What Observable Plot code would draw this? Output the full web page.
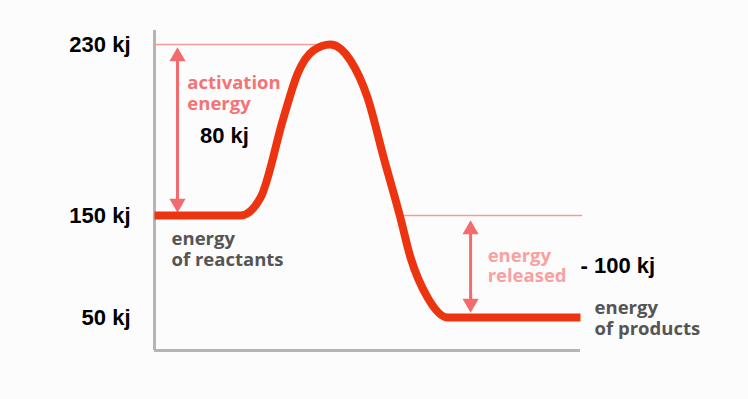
<!DOCTYPE html>
<html><head><meta charset="utf-8">
<script src="https://cdn.jsdelivr.net/npm/d3@7"></script>
<script src="https://cdn.jsdelivr.net/npm/@observablehq/plot@0.6"></script>
<style>body{margin:0;background:#fcfcfc}</style>
</head><body><div id="chart"></div>
<script>
// reaction progress (0-100) and energy (kJ) along the reaction path
const progress = [0, 20.2, 24.9, 30.3, 33.6, 37.3, 41.3, 46.0, 50.0, 53.8, 57.7, 60.1, 64.1, 68.8, 100];
const energy   = [150, 150, 158.4, 195.8, 216.4, 227.2, 230, 222.5, 205.2, 177.1, 148.0, 108.8, 69.6, 50, 50];
const levelValues = [230, 150, 50];
const levelLabels = ["230 kj", "150 kj", "50 kj"];
const reactants = 150, peak = 230, products = 50;
const peakProgress = 41.3;
const releasedStart = 58.5;
const activationArrowX = 5.4, releasedArrowX = 74.2;
const activationValue = "80 kj", releasedValue = "- 100 kj";
const curveData = progress.map((p, i) => ({p, e: energy[i]}));

// the diagram is not drawn to scale: a piecewise (schematic) energy axis
const schematic = d3.scaleLinear().domain([15, 50, 150, 230, 240]).range([0, 33, 135, 306, 320]);

const bold = "Liberation Sans, Arial, sans-serif";
const sans = "Open Sans, sans-serif";
const desc = {textAnchor: "start", lineAnchor: "middle", lineHeight: 1.12, fontFamily: sans, fontWeight: 700, fontSize: 18.5};
const chart = Plot.plot({
  width: 748, height: 399,
  marginTop: 0, marginRight: 0, marginBottom: 0, marginLeft: 0,
  style: {background: "#fcfcfc", overflow: "visible"},
  x: {domain: [0, 100], range: [154, 580], axis: null},
  y: {transform: schematic, domain: [0, 320], range: [350, 30], axis: null},
  marks: [
    // axes
    Plot.ruleX([0], {y1: 15, y2: 240, stroke: "#b5b5b5", strokeWidth: 3}),
    Plot.ruleY([15], {x1: 0, x2: 100, stroke: "#b5b5b5", strokeWidth: 3}),
    // reference lines
    Plot.ruleY([peak], {x1: 0, x2: peakProgress - 2, stroke: "#f89a9a", strokeWidth: 1.5}),
    Plot.ruleY([reactants], {x1: releasedStart, x2: 100.5, stroke: "#f89a9a", strokeWidth: 1.5}),
    // arrows
    Plot.ruleX([activationArrowX], {y1: peak, y2: reactants, insetTop: 10, insetBottom: 10, stroke: "#f46b6e", strokeWidth: 3}),
    Plot.dot([activationArrowX], {x: d => d, y: peak, dy: 12, symbol: "triangle", r: 6, fill: "#f46b6e", stroke: "none"}),
    Plot.dot([activationArrowX], {x: d => d, y: reactants, dy: -12, symbol: "triangle", rotate: 180, r: 6, fill: "#f46b6e", stroke: "none"}),
    Plot.ruleX([releasedArrowX], {y1: reactants, y2: products, insetTop: 12, insetBottom: 12, stroke: "#f46b6e", strokeWidth: 3}),
    Plot.dot([releasedArrowX], {x: d => d, y: reactants, dy: 14, symbol: "triangle", r: 6, fill: "#f46b6e", stroke: "none"}),
    Plot.dot([releasedArrowX], {x: d => d, y: products, dy: -14, symbol: "triangle", rotate: 180, r: 6, fill: "#f46b6e", stroke: "none"}),
    // energy curve
    Plot.line(curveData, {x: "p", y: "e", curve: "monotone-x", stroke: "#ec3510", strokeWidth: 8, strokeLinecap: "butt"}),
    // level labels
    Plot.text(levelValues, {x: 0, y: d => d, text: (d, i) => levelLabels[i], dx: -24, textAnchor: "end", fontFamily: bold, fontWeight: "bold", fontSize: 22, fill: "#000"}),
    Plot.text([activationValue], {x: 16.4, y: 187, text: d => d, fontFamily: bold, fontWeight: "bold", fontSize: 22, fill: "#000"}),
    Plot.text([releasedValue], {x: 100, y: 101, text: d => d, textAnchor: "start", fontFamily: bold, fontWeight: "bold", fontSize: 22, fill: "#000"}),
    // descriptive labels
    Plot.text(["activation\nenergy"], {x: 7.7, y: 207.3, text: d => d, ...desc, fill: "#f47476"}),
    Plot.text(["energy\nof reactants"], {x: 4.0, y: 117.6, text: d => d, ...desc, fill: "#555"}),
    Plot.text(["energy\nreleased"], {x: 78.2, y: 101, text: d => d, ...desc, fill: "#f9a1a1"}),
    Plot.text(["energy\nof products"], {x: 103.3, y: 50, text: d => d, ...desc, fill: "#555"})
  ]
});
document.getElementById("chart").append(chart);
</script>
</body></html>
